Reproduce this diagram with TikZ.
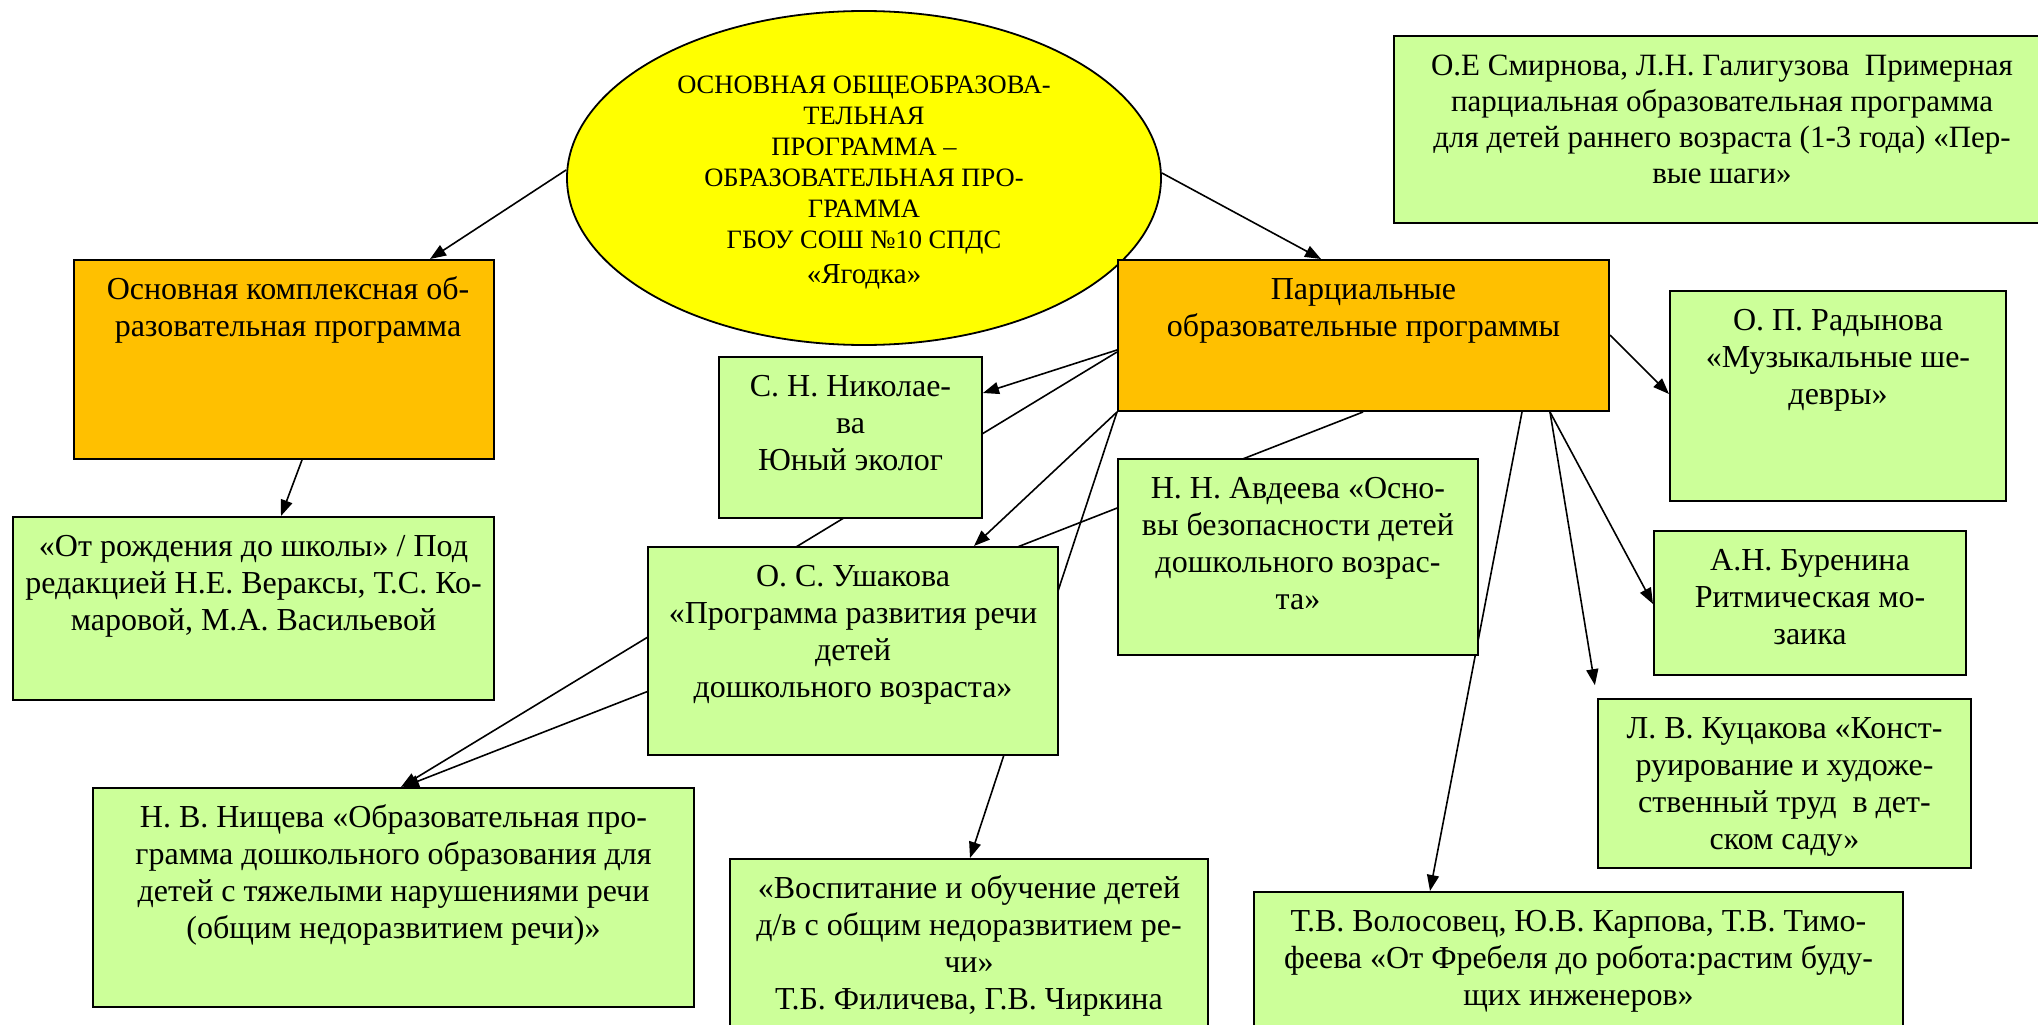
\documentclass[tikz,border=0pt]{standalone}
\usepackage{fontspec}
\setmainfont{Liberation Serif}
\usetikzlibrary{shapes.geometric,arrows.meta,fit}
\pgfdeclarelayer{background}
\pgfdeclarelayer{paper}
\pgfsetlayers{paper,background,main}
\definecolor{gfill}{RGB}{204,255,153}
\definecolor{ofill}{RGB}{255,192,0}
\definecolor{yfill}{RGB}{255,255,0}
\newcommand{\fl}{\rule{0pt}{30pt}}
\begin{document}
\begin{tikzpicture}[x=1pt,y=-1pt,
  gbox/.style={draw=black, line width=2pt, fill=gfill, inner sep=0pt},
  obox/.style={gbox, fill=ofill},
  txt/.style={anchor=north, align=center, inner sep=0pt, font=\fontsize{32}{37}\selectfont},
  conn/.style={line width=1.6pt, -{Triangle[length=16pt,width=12pt]}},
  ]
\begin{pgfonlayer}{paper}
\fill[white] (0,0) rectangle (2038,1025);
\end{pgfonlayer}
\useasboundingbox (0,0) rectangle (2038,1025);

% central ellipse
\node[ellipse, draw=black, line width=1.8pt, fill=yfill, minimum width=594pt, minimum height=334pt, inner sep=0pt] (E) at (864,178) {};
\node[txt, font=\fontsize{26.5}{31}\selectfont] (Et) at ([yshift=-53pt]E.north) {\fl ОСНОВНАЯ ОБЩЕОБРАЗОВА-\\ТЕЛЬНАЯ\\ПРОГРАММА –\\ОБРАЗОВАТЕЛЬНАЯ ПРО-\\ГРАММА\\ГБОУ СОШ №10 СПДС\\[4pt]{\fontsize{29}{31}\selectfont «Ягодка»}};

% boxes
\node[obox, fit={(74,260) (494,459)}] (A) {};
\node[gbox, fit={(13,517) (494,700)}] (B) {};
\node[gbox, fit={(719,357) (982,518)}] (N) {};
\node[obox, fit={(1118,260) (1609,411)}] (P) {};
\node[gbox, fit={(1118,459) (1478,655)}] (Av) {};
\node[gbox, fit={(648,547) (1058,755)}] (U) {};
\node[gbox, fit={(93,788) (694,1007)}] (Ni) {};
\node[gbox, fit={(730,859) (1208,1045)}] (V) {};
\node[gbox, fit={(1254,892) (1903,1045)}] (Vo) {};
\node[gbox, fit={(1598,699) (1971,868)}] (K) {};
\node[gbox, fit={(1654,531) (1966,675)}] (Bu) {};
\node[gbox, fit={(1670,291) (2006,501)}] (R) {};
\node[gbox, fit={(1394,36) (2048,223)}] (S) {};

% texts
\node[txt] (At) at ([xshift=4pt,yshift=-10pt]A.north) {\fl Основная комплексная об-\\разовательная программа};
\node[txt] (Bt) at ([yshift=-10pt]B.north) {\fl «От рождения до школы» / Под\\редакцией Н.Е. Вераксы, Т.С. Ко-\\маровой, М.А. Васильевой};
\node[txt] (Nt) at ([yshift=-10pt]N.north) {\fl С. Н. Николае-\\ва\\ Юный эколог};
\node[txt] (Pt) at ([yshift=-10pt]P.north) {\fl Парциальные\\образовательные программы};
\node[txt] (Avt) at ([yshift=-10pt]Av.north) {\fl Н. Н. Авдеева «Осно-\\вы безопасности детей\\дошкольного возрас-\\та»};
\node[txt] (Ut) at ([yshift=-10pt]U.north) {\fl О. С. Ушакова\\«Программа развития речи\\детей\\дошкольного возраста»};
\node[txt] (Nit) at ([yshift=-10pt]Ni.north) {\fl Н. В. Нищева «Образовательная про-\\грамма дошкольного образования для\\детей с тяжелыми нарушениями речи\\(общим недоразвитием речи)»};
\node[txt] (Vt) at ([yshift=-10pt]V.north) {\fl «Воспитание и обучение детей\\д/в с общим недоразвитием ре-\\чи»\\Т.Б. Филичева, Г.В. Чиркина};
\node[txt] (Vot) at ([yshift=-10pt]Vo.north) {\fl Т.В. Волосовец, Ю.В. Карпова, Т.В. Тимо-\\феева «От Фребеля до робота:растим буду-\\щих инженеров»};
\node[txt] (Kt) at ([yshift=-10pt]K.north) {\fl Л. В. Куцакова «Конст-\\руирование и художе-\\ственный труд\ \ в дет-\\ском саду»};
\node[txt] (But) at ([yshift=-10pt]Bu.north) {\fl А.Н. Буренина\\Ритмическая мо-\\заика};
\node[txt] (Rt) at ([yshift=-10pt]R.north) {\fl О. П. Радынова\\«Музыкальные ше-\\девры»};
\node[txt, font=\fontsize{31}{36}\selectfont] (St) at ([xshift=1pt,yshift=-10pt]S.north) {\fl О.Е Смирнова, Л.Н. Галигузова\ \ Примерная\\парциальная образовательная программа\\для детей раннего возраста (1-3 года) «Пер-\\вые шаги»};

% connectors
\begin{pgfonlayer}{background}
\draw[conn] ([yshift=8pt]E.west) -- ([xshift=357pt]A.north west);
\draw[conn] ([yshift=5pt]E.east) -- ([xshift=204pt]P.north west);
\draw[conn] ([xshift=229pt]A.south west) -- ([xshift=269pt]B.north west);
\draw[conn] ([yshift=-91pt]P.north west) -- ([yshift=-37pt]N.north east);
\draw[conn] ([yshift=-93pt]P.north west) -- ([xshift=309pt]Ni.north west);
\draw[conn] ([xshift=246pt]P.south west) -- ([xshift=311pt]Ni.north west);
\draw[conn] (P.south west) -- ([xshift=327pt]U.north west);
\draw[conn] (P.south west) -- ([xshift=241pt]V.north west);
\draw[conn] ([yshift=-76pt]P.north east) -- ([yshift=-104pt]R.north west);
\draw[conn] ([xshift=433pt]P.south west) -- ([yshift=-74pt]Bu.north west);
\draw[conn, shorten >=13pt] ([xshift=433pt]P.south west) -- (K.north west);
\draw[conn] ([xshift=405pt]P.south west) -- ([xshift=177pt]Vo.north west);
\end{pgfonlayer}
\end{tikzpicture}
\end{document}
